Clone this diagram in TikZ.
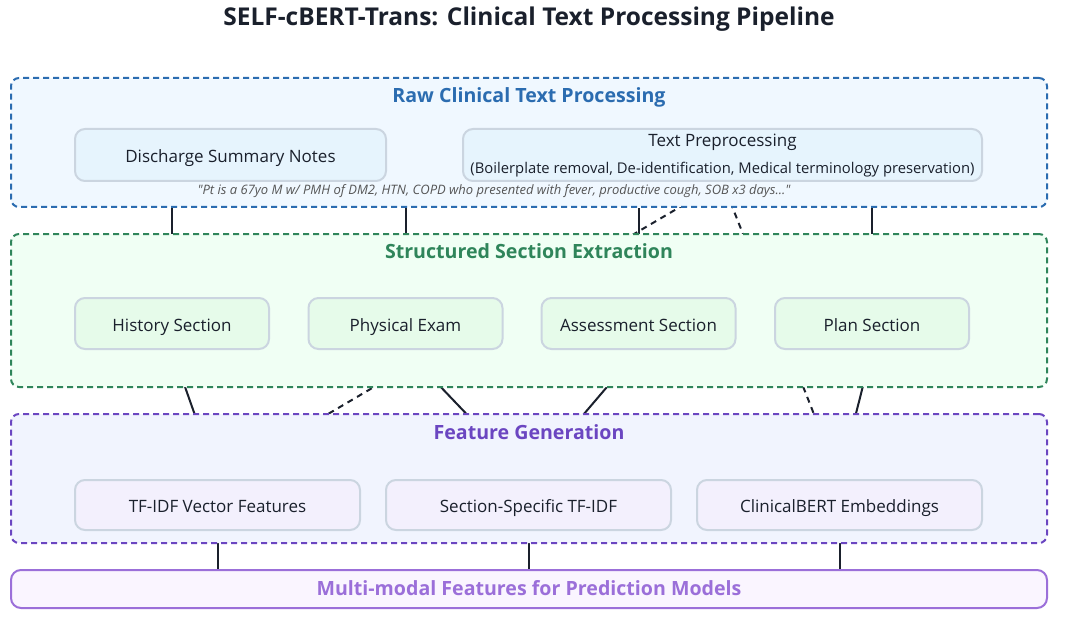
\documentclass[tikz,border=0pt]{standalone}
\usepackage{fontspec}
\setmainfont{Open Sans}
\newfontfamily\notefont{Open Sans}
\usetikzlibrary{calc}
\pgfdeclarelayer{bg}
\pgfdeclarelayer{conn}
\pgfdeclarelayer{cont}
\pgfsetlayers{bg,conn,cont,main}
\definecolor{titlec}{HTML}{1A202C}
\definecolor{bluec}{HTML}{2B6CB0}
\definecolor{bluefill}{HTML}{F0F8FF}
\definecolor{bluenode}{HTML}{E6F4FD}
\definecolor{greenc}{HTML}{2F855A}
\definecolor{greenfill}{HTML}{F0FFF4}
\definecolor{greennode}{HTML}{E6FBEA}
\definecolor{purplec}{HTML}{6B46C1}
\definecolor{purplefill}{HTML}{F1F4FE}
\definecolor{purplenode}{HTML}{F3F0FD}
\definecolor{outc}{HTML}{9B6FD9}
\definecolor{outfill}{HTML}{FAF5FF}
\definecolor{nodeborder}{HTML}{CBD5E0}
\definecolor{notec}{HTML}{555555}
\tikzset{
  container/.style={draw, dash pattern=on 6pt off 4pt, line width=2pt, rounded corners=8pt, inner sep=0pt, minimum width=1036pt},
  grouptitle/.style={font=\fontsize{19.6}{22}\selectfont\bfseries, inner sep=0pt},
  box/.style={draw=nodeborder, line width=2pt, rounded corners=10pt, inner sep=0pt, text=titlec, font=\fontsize{17}{20}\selectfont},
  onebox/.style={box, text height=15pt, text depth=0pt},
  link/.style={line width=2pt, draw=titlec},
  dlink/.style={link, dash pattern=on 6pt off 5pt},
}
\begin{document}
\begin{tikzpicture}[x=1pt,y=-1pt]
\begin{pgfonlayer}{bg}
\fill[white] (0,0) rectangle (1069,623);
\end{pgfonlayer}
\useasboundingbox (0,0) rectangle (1069,623);
\node[font=\fontsize{24.5}{28}\selectfont\bfseries, text=titlec, inner sep=0pt] (title) at (529,19.5) {SELF-cBERT-Trans: Clinical Text Processing Pipeline};

% containers
\begin{pgfonlayer}{cont}
\node[container, draw=bluec, fill=bluefill, minimum height=129pt] (raw) at (529,142.5) {};
\node[container, draw=greenc, fill=greenfill, minimum height=153pt] (sect) at (529,310.5) {};
\node[container, draw=purplec, fill=purplefill, minimum height=129pt] (feat) at (529,478.5) {};
\node[draw=outc, fill=outfill, line width=2pt, rounded corners=10pt, minimum width=1036pt, minimum height=38pt, inner sep=0pt] (out) at (529,589) {};
\end{pgfonlayer}

\node[grouptitle, text=bluec] (rawt) at (529,97) {Raw Clinical Text Processing};
\node[grouptitle, text=greenc] (sectt) at (529,251) {Structured Section Extraction};
\node[grouptitle, text=purplec] (featt) at (529,432) {Feature Generation};
\node[grouptitle, text=outc] (outt) at (529,588) {Multi-modal Features for Prediction Models};

% layer 1
\node[onebox, fill=bluenode, minimum width=311pt, minimum height=52pt] (dsn) at (230.5,155) {Discharge Summary Notes};
\node[box, fill=bluenode, minimum width=519pt, minimum height=52pt, align=center] (tp) at (722.5,155) {\raisebox{0pt}[13pt][0pt]{Text Preprocessing}\\[7pt]{\fontsize{14.8}{17}\selectfont(Boilerplate removal, De-identification, Medical terminology preservation)}};
\node[font=\notefont\fontsize{13}{15}\selectfont\itshape, text=notec, inner sep=0pt] (note) at (494,191) {"Pt is a 67yo M w/ PMH of DM2, HTN, COPD who presented with fever, productive cough, SOB x3 days..."};

% layer 2
\node[onebox, fill=greennode, minimum width=194pt, minimum height=51pt] (hist) at (172,323.5) {History Section};
\node[onebox, fill=greennode, minimum width=194pt, minimum height=51pt] (phys) at (405.5,323.5) {Physical Exam};
\node[onebox, fill=greennode, minimum width=194pt, minimum height=51pt] (assess) at (638.5,323.5) {Assessment Section};
\node[onebox, fill=greennode, minimum width=194pt, minimum height=51pt] (plan) at (872,323.5) {Plan Section};

% layer 3
\node[onebox, fill=purplenode, minimum width=285pt, minimum height=50pt] (tfidf) at (217.5,505) {TF-IDF Vector Features};
\node[onebox, fill=purplenode, minimum width=285pt, minimum height=50pt] (secspec) at (528.5,505) {Section-Specific TF-IDF};
\node[onebox, fill=purplenode, minimum width=285pt, minimum height=50pt] (cbert) at (839.5,505) {ClinicalBERT Embeddings};

% connectors
\begin{pgfonlayer}{conn}
\draw[link] (hist.north) -- (hist.north |- raw.south);
\draw[link] (phys.north) -- (phys.north |- raw.south);
\draw[link] (assess.north) -- (assess.north |- raw.south);
\draw[link] (plan.north) -- (plan.north |- raw.south);
\draw[dlink] (tp.south) -- (tfidf.north);
\draw[dlink] (tp.south) -- (cbert.north);
\draw[link] (hist.south) -- (tfidf.north);
\draw[link] (phys.south) -- (secspec.north);
\draw[link] (assess.south) -- (secspec.north);
\draw[link] (plan.south) -- (cbert.north);
\draw[link] (tfidf.south) -- (tfidf.south |- out.north);
\draw[link] (secspec.south) -- (secspec.south |- out.north);
\draw[link] (cbert.south) -- (cbert.south |- out.north);
\end{pgfonlayer}
\end{tikzpicture}
\end{document}
